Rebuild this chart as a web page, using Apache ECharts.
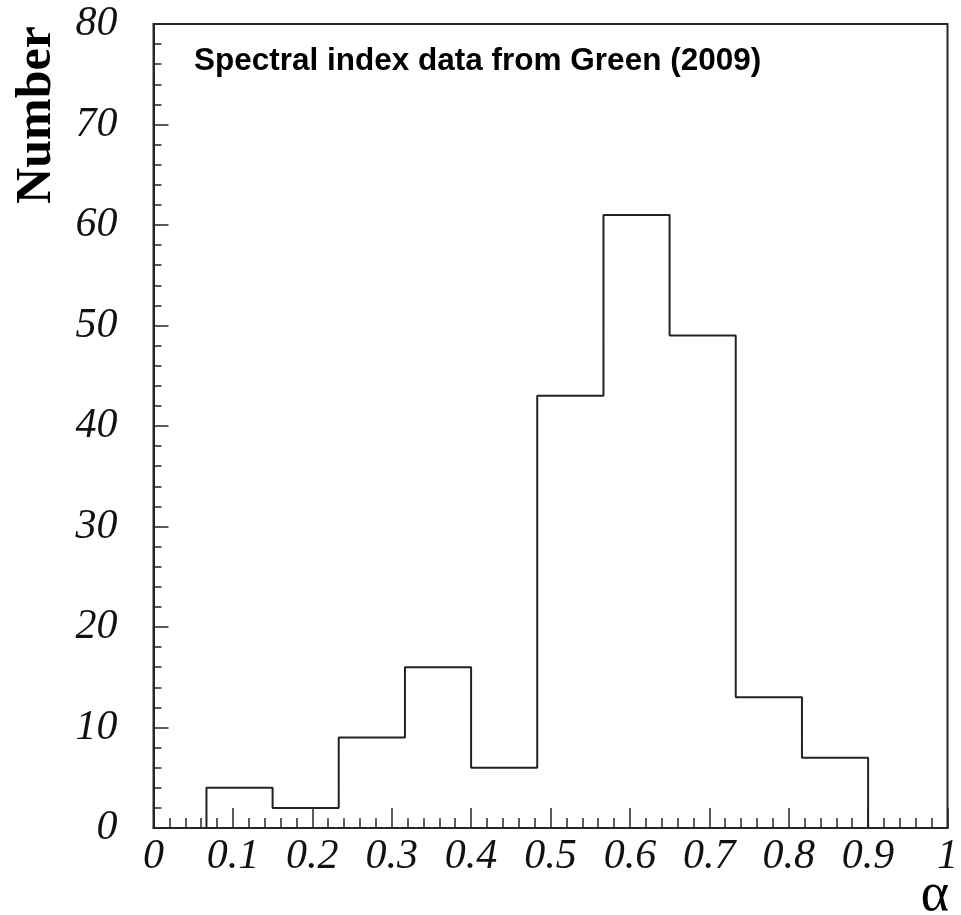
<!DOCTYPE html>
<html>
<head>
<meta charset="utf-8">
<script src="https://cdn.jsdelivr.net/npm/echarts@6/dist/echarts.min.js"></script>
<style>
  html, body { margin: 0; padding: 0; background: #fff; }
  #chart { width: 961px; height: 915px; }
</style>
</head>
<body>
<div id="chart"></div>
<script>
// Histogram of radio spectral indices (bin edges and counts per bin)
var binEdges = [0.0667, 0.15, 0.2333, 0.3167, 0.4, 0.4833, 0.5667, 0.65, 0.7333, 0.8167, 0.9];
var binCounts = [4, 2, 9, 16, 6, 43, 61, 49, 13, 7];

var xTickLabels = ['0', '0.1', '0.2', '0.3', '0.4', '0.5', '0.6', '0.7', '0.8', '0.9', '1'];
var yTickLabels = ['0', '10', '20', '30', '40', '50', '60', '70', '80'];

var titleText = 'Spectral index data from Green (2009)';
var yTitle = 'Number';
var xTitle = 'α';

// Outline of the histogram as a stepped polyline
var outline = [[binEdges[0], 0]];
for (var i = 0; i < binCounts.length; i++) {
  outline.push([binEdges[i], binCounts[i]]);
  outline.push([binEdges[i + 1], binCounts[i]]);
}
outline.push([binEdges[binEdges.length - 1], 0]);

var axisColor = '#262626';
var tickFont = {
  fontFamily: '"Liberation Serif", "Times New Roman", serif',
  fontStyle: 'italic',
  fontSize: 42,
  color: '#111'
};

var chart = echarts.init(document.getElementById('chart'));
chart.setOption({
  animation: false,
  backgroundColor: '#fff',
  title: {
    text: titleText,
    left: 189,
    top: 40,
    textStyle: {
      fontFamily: '"Liberation Sans", Arial, sans-serif',
      fontWeight: 'bold',
      fontSize: 31.5,
      color: '#000'
    }
  },
  grid: {
    left: 153.5,
    right: 13.5,
    top: 24,
    bottom: 87,
    show: true,
    borderColor: axisColor,
    borderWidth: 2,
    backgroundColor: 'transparent'
  },
  xAxis: {
    type: 'value',
    min: 0,
    max: 1,
    interval: 0.1,
    axisLine: { show: true, onZero: false, lineStyle: { color: axisColor, width: 2 } },
    axisTick: { show: true, inside: true, length: 20, lineStyle: { color: axisColor, width: 1.5 } },
    minorTick: { show: true, splitNumber: 5, length: 10, lineStyle: { color: axisColor, width: 1.5 } },
    splitLine: { show: false },
    axisLabel: Object.assign({
      margin: 8,
      formatter: function (v) { return xTickLabels[Math.round(v * 10)]; }
    }, tickFont)
  },
  yAxis: {
    type: 'value',
    min: 0,
    max: 80,
    interval: 10,
    axisLine: { show: true, lineStyle: { color: axisColor, width: 2 } },
    axisTick: { show: true, inside: true, length: 15, lineStyle: { color: axisColor, width: 1.5 } },
    minorTick: { show: true, splitNumber: 5, length: 8, lineStyle: { color: axisColor, width: 1.5 } },
    splitLine: { show: false },
    axisLabel: Object.assign({
      margin: 36,
      formatter: function (v) { return yTickLabels[Math.round(v / 10)]; }
    }, tickFont)
  },
  graphic: [
    {
      type: 'text',
      x: 37,
      y: 115,
      rotation: Math.PI / 2,
      style: {
        text: yTitle,
        fontFamily: '"Liberation Serif", "Times New Roman", serif',
        fontWeight: 'bold',
        fontSize: 50,
        fill: '#000',
        align: 'center',
        verticalAlign: 'middle'
      }
    },
    {
      type: 'text',
      x: 935,
      y: 896,
      style: {
        text: xTitle,
        fontFamily: '"Liberation Serif", "Times New Roman", serif',
        fontSize: 54,
        fill: '#000',
        align: 'center',
        verticalAlign: 'middle'
      }
    }
  ],
  series: [{
    type: 'line',
    data: outline,
    showSymbol: false,
    symbol: 'none',
    lineStyle: { color: '#222', width: 2 },
    silent: true
  }]
});
</script>
</body>
</html>
